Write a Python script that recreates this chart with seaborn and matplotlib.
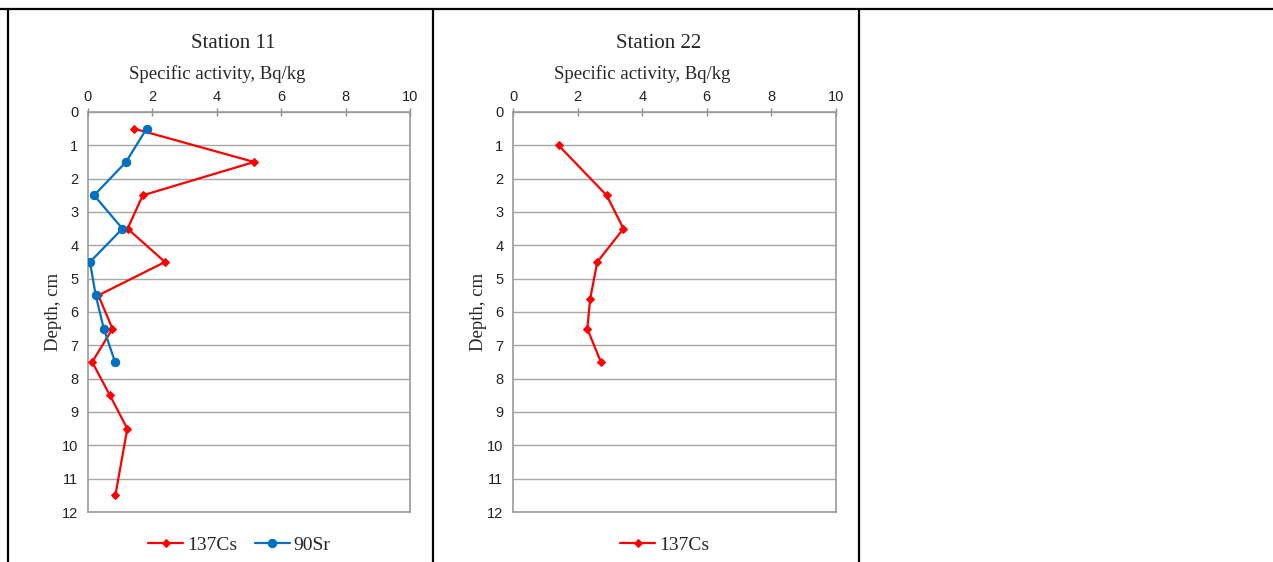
import numpy as np
import pandas as pd
import matplotlib
matplotlib.use("Agg")
import matplotlib.pyplot as plt
from matplotlib.lines import Line2D
import seaborn as sns

# data
depth_cs_11 = [0.5, 1.5, 2.5, 3.5, 4.5, 5.5, 6.5, 7.5, 8.5, 9.5, 11.5]
cs_11 = [1.43, 5.16, 1.70, 1.23, 2.39, 0.32, 0.76, 0.13, 0.68, 1.22, 0.85]
depth_sr_11 = [0.5, 1.5, 2.5, 3.5, 4.5, 5.5, 6.5, 7.5]
sr_11 = [1.82, 1.18, 0.19, 1.07, 0.06, 0.24, 0.49, 0.84]
depth_cs_22 = [1.0, 2.5, 3.5, 4.5, 5.6, 6.5, 7.5]
cs_22 = [1.41, 2.90, 3.42, 2.61, 2.39, 2.30, 2.72]

x_ticks = [0, 2, 4, 6, 8, 10]
y_ticks = list(range(0, 13))

sns.set_style("white")
serif = ["Liberation Serif", "DejaVu Serif"]
sans = ["Liberation Sans", "DejaVu Sans"]

df11 = pd.concat([
    pd.DataFrame({"activity": cs_11, "depth": depth_cs_11, "nuclide": "137Cs"}),
    pd.DataFrame({"activity": sr_11, "depth": depth_sr_11, "nuclide": "90Sr"}),
])
df22 = pd.DataFrame({"activity": cs_22, "depth": depth_cs_22, "nuclide": "137Cs"})

palette = {"137Cs": "#FF0000", "90Sr": "#0070C0"}
markers = {"137Cs": "D", "90Sr": "o"}
msize = {"137Cs": 4.5, "90Sr": 6}

fig = plt.figure(figsize=(12.73, 5.62), dpi=100)
ax1 = fig.add_axes([88 / 1273, 50 / 562, 322 / 1273, 400 / 562])
ax2 = fig.add_axes([513 / 1273, 50 / 562, 323 / 1273, 400 / 562])


def draw(ax, df, title):
    for name, sub in df.groupby("nuclide", sort=False):
        sns.lineplot(data=sub, x="activity", y="depth", sort=False, ax=ax,
                     color=palette[name], marker=markers[name],
                     markersize=msize[name], markeredgecolor=palette[name],
                     linewidth=1.6, label=name, zorder=3)
    ax.set_xlim(0, 10)
    ax.set_ylim(12, 0)
    ax.set_xticks(x_ticks)
    ax.set_yticks(y_ticks)
    ax.xaxis.tick_top()
    ax.xaxis.set_label_position("top")
    ax.tick_params(axis="both", length=4, width=1, color="#8C8C8C",
                   labelsize=10.5, labelcolor="#222222", pad=3, direction="out")
    ax.tick_params(axis="x", direction="inout", length=6)
    for lab in ax.get_xticklabels() + ax.get_yticklabels():
        lab.set_fontfamily(sans)
    ax.grid(axis="y", color="#A6A6A6", linewidth=1)
    ax.grid(axis="x", visible=False)
    for sp in ax.spines.values():
        sp.set_color("#999999")
        sp.set_linewidth(1.2)
    ax.set_xlabel("Specific activity, Bq/kg", family=serif, fontsize=13.5, labelpad=8)
    ax.xaxis.label.set_x(0.40)
    ax.set_ylabel("Depth, cm", family=serif, fontsize=13.5, labelpad=0)
    ax.set_title(title, family=serif, fontsize=15, pad=12, x=0.45)
    ax.legend(loc="center", bbox_to_anchor=(0.47, -0.083), ncol=2, frameon=False,
              prop={"family": serif, "size": 14}, handlelength=1.8,
              columnspacing=0.9, handletextpad=0.2)


draw(ax1, df11, "Station 11")
draw(ax2, df22, "Station 22")

# table borders around the panels
top = 1 - 9 / 562
fig.add_artist(Line2D([0, 1], [top, top], transform=fig.transFigure,
                      color="black", linewidth=1.6))
for xp in [8, 433, 859]:
    fig.add_artist(Line2D([xp / 1273, xp / 1273], [0, top], transform=fig.transFigure,
                          color="black", linewidth=1.6))

fig.savefig("out.png", dpi=100, facecolor="white")
